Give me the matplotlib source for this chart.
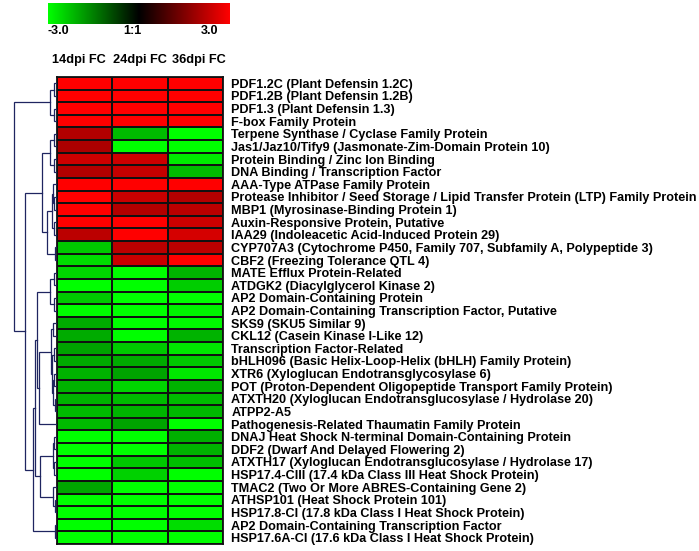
import numpy as np
import matplotlib
matplotlib.use("Agg")
import matplotlib.pyplot as plt
from matplotlib.colors import LinearSegmentedColormap

plt.rcParams["font.family"] = ["Liberation Sans", "DejaVu Sans"]
plt.rcParams["font.weight"] = "bold"

SAMPLES = ["14dpi FC", "24dpi FC", "36dpi FC"]
GENES = [
    "PDF1.2C (Plant Defensin 1.2C)",
    "PDF1.2B (Plant Defensin 1.2B)",
    "PDF1.3 (Plant Defensin 1.3)",
    "F-box Family Protein",
    "Terpene Synthase / Cyclase Family Protein",
    "Jas1/Jaz10/Tify9 (Jasmonate-Zim-Domain Protein 10)",
    "Protein Binding / Zinc Ion Binding",
    "DNA Binding / Transcription Factor",
    "AAA-Type ATPase Family Protein",
    "Protease Inhibitor / Seed Storage / Lipid Transfer Protein (LTP) Family Protein",
    "MBP1 (Myrosinase-Binding Protein 1)",
    "Auxin-Responsive Protein, Putative",
    "IAA29 (Indoleacetic Acid-Induced Protein 29)",
    "CYP707A3 (Cytochrome P450, Family 707, Subfamily A, Polypeptide 3)",
    "CBF2 (Freezing Tolerance QTL 4)",
    "MATE Efflux Protein-Related",
    "ATDGK2 (Diacylglycerol Kinase 2)",
    "AP2 Domain-Containing Protein",
    "AP2 Domain-Containing Transcription Factor, Putative",
    "SKS9 (SKU5 Similar 9)",
    "CKL12 (Casein Kinase I-Like 12)",
    "Transcription Factor-Related",
    "bHLH096 (Basic Helix-Loop-Helix (bHLH) Family Protein)",
    "XTR6 (Xyloglucan Endotransglycosylase 6)",
    "POT (Proton-Dependent Oligopeptide Transport Family Protein)",
    "ATXTH20 (Xyloglucan Endotransglucosylase / Hydrolase 20)",
    "ATPP2-A5",
    "Pathogenesis-Related Thaumatin Family Protein",
    "DNAJ Heat Shock N-terminal Domain-Containing Protein",
    "DDF2 (Dwarf And Delayed Flowering 2)",
    "ATXTH17 (Xyloglucan Endotransglucosylase / Hydrolase 17)",
    "HSP17.4-CIII (17.4 kDa Class III Heat Shock Protein)",
    "TMAC2 (Two Or More ABRES-Containing Gene 2)",
    "ATHSP101 (Heat Shock Protein 101)",
    "HSP17.8-CI (17.8 kDa Class I Heat Shock Protein)",
    "AP2 Domain-Containing Transcription Factor",
    "HSP17.6A-CI (17.6 kDa Class I Heat Shock Protein)",
]

# log2 fold change, clipped to the colour scale
FC_14 = [3, 3, 3, 3, 2.1, 2.0, 2.4, 2.1, 3, 3, 3, 3, 2.2, -2.35, -2.6, -2.5, -3, -2.35, -3,
         -2.0, -2.0, -1.9, -2.0, -2.1, -2.1, -2.1, -2.2, -2.2, -3, -3, -3, -3, -1.95, -3, -3, -3, -3]
FC_24 = [3, 3, 3, 3, -2.2, -3, 2.4, 2.3, 3, 2.35, 2.1, 3, 3, 2.2, 2.35, -3, -3, -3, -3,
         -3, -3, -2.35, -2.0, -1.9, -2.5, -2.2, -2.1, -1.9, -3, -3, -2.35, -2.45, -3, -3, -3, -3, -3]
FC_36 = [3, 3, 3, 3, -3, -3, -2.75, -2.2, 3, 2.1, 2.2, 2.4, 2.5, 2.2, 3, -2.1, -2.4, -3, -2.85,
         -2.9, -2.1, -2.7, -2.35, -2.7, -2.1, -2.2, -2.15, -3, -2.05, -2.1, -2.25, -3, -3, -3, -3, -2.6, -3]

CBAR_LABELS = ["-3.0", "1:1", "3.0"]

# row clustering: (merge distance, left, right); ints are row indices
TREE = (1.0,
        (0.16, (0.07, 0, 1), (0.07, 2, 3)),
        (0.74,
         (0.35,
          (0.16, (0.07, 4, 5), (0.07, 6, 7)),
          (0.23,
           (0.12, (0.09, 8, (0.06, 9, 10)), (0.07, 11, 12)),
           (0.05, 13, 14))),
         (0.56,
          (0.51,
           (0.465,
            (0.16, (0.07, 15, 16), (0.07, 17, 18)),
            (0.42,
             (0.14, (0.10, 19, 20),
              (0.11, (0.08, 21, 22), (0.09, (0.06, 23, 24), (0.04, 25, 26)))),
             27)),
           (0.40,
            (0.09, (0.07, 28, 29), (0.07, 30, 31)),
            (0.09, 32, (0.05, 33, 34)))),
          (0.05, 35, 36))))

LINE_COLOR = "#1f2560"
W, H = 699, 551


def _box(x0, y0, x1, y1):
    return [x0 / W, 1 - y1 / H, (x1 - x0) / W, (y1 - y0) / H]


def _draw_tree(axis, node):
    if isinstance(node, int):
        return node + 0.5, 0.0
    dist, left, right = node
    yl, hl = _draw_tree(axis, left)
    yr, hr = _draw_tree(axis, right)
    axis.plot([hl, dist, dist, hr], [yl, yl, yr, yr], color=LINE_COLOR, lw=0.9,
              solid_joinstyle="miter")
    return (yl + yr) / 2, dist


def main():
    data = np.column_stack([FC_14, FC_24, FC_36])
    n = len(GENES)
    cmap = LinearSegmentedColormap.from_list("gkr", ["#00ff00", "#000000", "#ff0000"])

    fig = plt.figure(figsize=(W / 100, H / 100), dpi=100)

    ax = fig.add_axes(_box(57, 77, 223, 544))
    ax.pcolormesh(np.arange(4), np.arange(n + 1), data, cmap=cmap, vmin=-3, vmax=3,
                  edgecolors="#111111", linewidth=1.3)
    ax.set_xlim(0, 3)
    ax.set_ylim(n, 0)
    ax.yaxis.tick_right()
    ax.set_yticks(np.arange(n) + 0.5, GENES, fontsize=9.1, fontweight="bold")
    ax.set_xticks([])
    ax.tick_params(length=0)
    ax.tick_params(axis="y", pad=6)
    for spine in ax.spines.values():
        spine.set_linewidth(1.3)
        spine.set_color("#111111")

    # column headers sit a little wider apart than the columns themselves
    for x_px, name in zip([79, 140, 199], SAMPLES):
        fig.text(x_px / W, 1 - 60 / H, name, ha="center", va="center", fontsize=9.2,
                 fontweight="bold")

    dax = fig.add_axes(_box(10, 77, 57, 544))
    _draw_tree(dax, TREE)
    dax.set_xlim(47 / 43, 0)
    dax.set_ylim(n, 0)
    dax.axis("off")

    cax = fig.add_axes(_box(48, 3, 230, 24))
    cax.imshow(np.linspace(-3, 3, 256)[None, :], cmap=cmap, aspect="auto", extent=(-3, 3, 0, 1))
    cax.axis("off")
    for x_px, ha, label in zip([48, 132, 210], ["left", "center", "center"], CBAR_LABELS):
        fig.text(x_px / W, 1 - 31 / H, label, ha=ha, va="center", fontsize=9, fontweight="bold")

    fig.savefig("out.png", dpi=100)


if __name__ == "__main__":
    main()
